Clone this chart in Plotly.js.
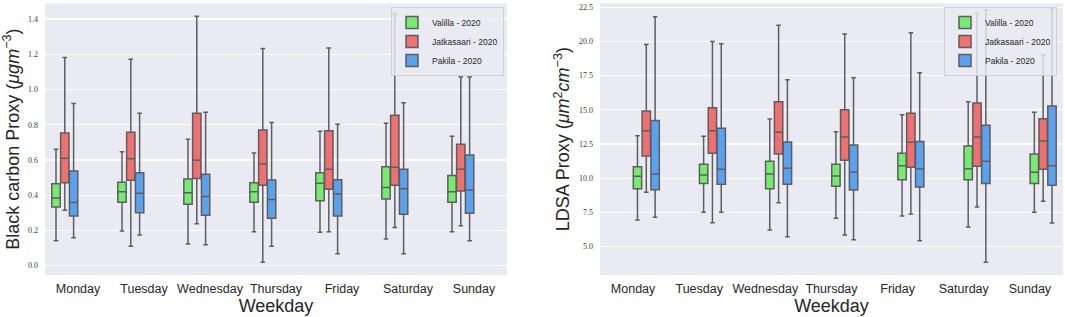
<!DOCTYPE html>
<html>
<head>
<meta charset="utf-8">
<script src="https://cdn.plot.ly/plotly-3.0.1.min.js"></script>
<style>html,body{margin:0;padding:0;background:#fff;}#chart{width:1065px;height:317px;}</style>
</head>
<body>
<div id="chart"></div>
<script>
const days = ['Monday','Tuesday','Wednesday','Thursday','Friday','Saturday','Sunday'];
const seriesNames = ['Valilla - 2020','Jatkasaari - 2020','Pakila - 2020'];

// Black carbon proxy (µg m^-3)
const bcValillaHi  = [0.660, 0.647, 0.717, 0.640, 0.763, 0.808, 0.734];
const bcValillaQ3  = [0.465, 0.473, 0.492, 0.471, 0.528, 0.562, 0.511];
const bcValillaMed = [0.384, 0.420, 0.414, 0.420, 0.468, 0.443, 0.420];
const bcValillaQ1  = [0.333, 0.360, 0.348, 0.360, 0.369, 0.379, 0.360];
const bcValillaLo  = [0.142, 0.197, 0.123, 0.193, 0.190, 0.152, 0.193];

const bcJatkaHi  = [1.181, 1.171, 1.415, 1.232, 1.236, 1.430, 1.071];
const bcJatkaQ3  = [0.753, 0.757, 0.865, 0.770, 0.766, 0.853, 0.689];
const bcJatkaMed = [0.609, 0.607, 0.598, 0.579, 0.547, 0.558, 0.547];
const bcJatkaQ1  = [0.471, 0.485, 0.494, 0.456, 0.434, 0.456, 0.424];
const bcJatkaLo  = [0.314, 0.110, 0.238, 0.019, 0.193, 0.216, 0.227];

const bcPakilaHi  = [0.920, 0.865, 0.870, 0.812, 0.802, 0.925, 1.071];
const bcPakilaQ3  = [0.537, 0.528, 0.519, 0.486, 0.488, 0.547, 0.628];
const bcPakilaMed = [0.358, 0.411, 0.392, 0.375, 0.407, 0.437, 0.430];
const bcPakilaQ1  = [0.282, 0.301, 0.286, 0.269, 0.282, 0.292, 0.297];
const bcPakilaLo  = [0.159, 0.174, 0.119, 0.110, 0.068, 0.068, 0.142];

// LDSA proxy (µm^2 cm^-3)
const ldValillaHi  = [13.11, 13.07, 14.33, 13.41, 14.65, 15.60, 14.82];
const ldValillaQ3  = [10.85, 11.02, 11.24, 11.02, 11.83, 12.36, 11.78];
const ldValillaMed = [10.15, 10.24, 10.31, 10.17, 10.92, 10.70, 10.44];
const ldValillaQ1  = [9.24, 9.61, 9.24, 9.41, 9.90, 9.90, 9.61];
const ldValillaLo  = [6.95, 7.51, 6.22, 7.07, 7.24, 6.44, 7.51];

const ldJatkaHi  = [19.77, 19.99, 21.18, 20.55, 20.64, 22.06, 19.01];
const ldJatkaQ3  = [14.92, 15.16, 15.60, 15.01, 14.75, 15.50, 14.36];
const ldJatkaMed = [13.48, 13.48, 13.36, 13.02, 12.63, 13.02, 12.73];
const ldJatkaQ1  = [11.63, 11.83, 11.78, 11.32, 10.80, 10.88, 10.66];
const ldJatkaLo  = [8.98, 6.75, 8.22, 5.86, 7.39, 7.90, 8.32];

const ldPakilaHi  = [21.81, 19.84, 17.21, 17.35, 17.72, 22.3, 22.4];
const ldPakilaQ3  = [14.23, 13.65, 12.65, 12.43, 12.68, 13.87, 15.28];
const ldPakilaMed = [10.31, 10.66, 10.73, 10.44, 10.70, 11.24, 10.92];
const ldPakilaQ1  = [9.17, 9.56, 9.56, 9.14, 9.36, 9.61, 9.49];
const ldPakilaLo  = [7.15, 7.51, 5.73, 5.51, 5.44, 3.86, 6.73];

const bcTicks = [0.0, 0.2, 0.4, 0.6, 0.8, 1.0, 1.2, 1.4];
const ldTicks = [5.0, 7.5, 10.0, 12.5, 15.0, 17.5, 20.0, 22.5];

const colors = ['#77eb6e', '#ee7070', '#5aa2ee'];
const edge = '#5d5d62';

function box(name, color, lo, q1, med, q3, hi, xa, ya, legend, show) {
  return {
    type: 'box', name: name, x: days,
    lowerfence: lo, q1: q1, median: med, q3: q3, upperfence: hi,
    xaxis: xa, yaxis: ya, legend: legend, showlegend: show,
    fillcolor: color, line: {color: edge, width: 1.5},
    whiskerwidth: 0.55, boxpoints: false, hoverinfo: 'skip'
  };
}

const data = [
  box(seriesNames[0], colors[0], bcValillaLo, bcValillaQ1, bcValillaMed, bcValillaQ3, bcValillaHi, 'x', 'y', 'legend', true),
  box(seriesNames[1], colors[1], bcJatkaLo, bcJatkaQ1, bcJatkaMed, bcJatkaQ3, bcJatkaHi, 'x', 'y', 'legend', true),
  box(seriesNames[2], colors[2], bcPakilaLo, bcPakilaQ1, bcPakilaMed, bcPakilaQ3, bcPakilaHi, 'x', 'y', 'legend', true),
  box(seriesNames[0], colors[0], ldValillaLo, ldValillaQ1, ldValillaMed, ldValillaQ3, ldValillaHi, 'x2', 'y2', 'legend2', true),
  box(seriesNames[1], colors[1], ldJatkaLo, ldJatkaQ1, ldJatkaMed, ldJatkaQ3, ldJatkaHi, 'x2', 'y2', 'legend2', true),
  box(seriesNames[2], colors[2], ldPakilaLo, ldPakilaQ1, ldPakilaMed, ldPakilaQ3, ldPakilaHi, 'x2', 'y2', 'legend2', true)
];

const sans = 'Liberation Sans, Arial, sans-serif';
const serif = 'Liberation Serif, DejaVu Serif, serif';
const txt = '#262626';

function xax(domain, anchor) {
  return {
    domain: domain, anchor: anchor, type: 'category',
    showgrid: false, zeroline: false, showline: false, ticks: '',
    tickangle: 0,
    tickfont: {family: sans, size: 12.5, color: txt},
    ticklabelstandoff: 5,
    title: {text: 'Weekday', font: {family: sans, size: 18, color: txt}, standoff: 0},
    automargin: false
  };
}
function yax(domain, anchor, range, ticks, title) {
  return {
    domain: domain, anchor: anchor, range: range,
    tickmode: 'array', tickvals: ticks, tickformat: '.1f',
    showgrid: true, gridcolor: '#ffffff', gridwidth: 1.2,
    zeroline: false, showline: false, ticks: '',
    tickfont: {family: serif, size: 8, color: '#3a3a3a'},
    ticklabelstandoff: 6,
    title: {text: title, font: {family: sans, size: 18, color: txt}, standoff: 4},
    automargin: false
  };
}

const legendBase = {
  xanchor: 'right', yanchor: 'top', y: 0.978,
  bgcolor: 'rgba(234,234,242,0.8)', bordercolor: '#cfcfd6', borderwidth: 1,
  font: {family: sans, size: 8.5, color: txt}, tracegroupgap: 0, itemwidth: 30
};

const layout = {
  width: 1065, height: 317,
  margin: {l: 0, r: 0, t: 0, b: 0},
  paper_bgcolor: '#ffffff', plot_bgcolor: '#eaeaf2',
  boxmode: 'group', boxgap: 0.2, boxgroupgap: 0.05,
  xaxis: xax([45/1065, 507/1065], 'y'),
  yaxis: yax([0.1325, 0.9896], 'x', [-0.053, 1.489], bcTicks, 'Black carbon Proxy (<i>μgm</i><sup>−3</sup>)'),
  xaxis2: xax([600/1065, 1063/1065], 'y2'),
  yaxis2: yax([0.1325, 0.9896], 'x2', [2.93, 22.79], ldTicks, 'LDSA Proxy (<i>μm</i><sup>2</sup><i>cm</i><sup>−3</sup>)'),
  legend: Object.assign({}, legendBase, {x: 504/1065}),
  legend2: Object.assign({}, legendBase, {x: 1057/1065}),
  showlegend: true
};

Plotly.newPlot('chart', data, layout, {staticPlot: true, displayModeBar: false});
</script>
</body>
</html>
